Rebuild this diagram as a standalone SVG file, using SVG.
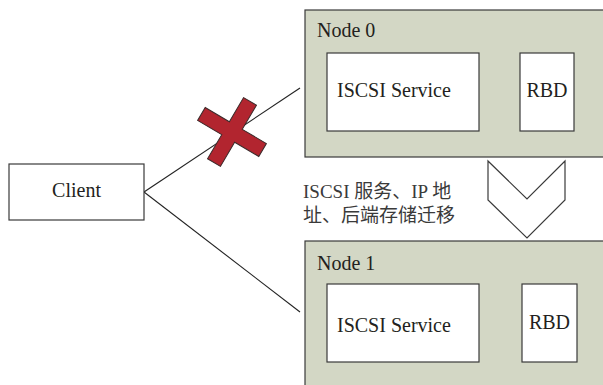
<svg xmlns="http://www.w3.org/2000/svg" width="603" height="385" viewBox="0 0 603 385" font-family="Times New Roman, Liberation Serif, serif">
  <style>
    .node { fill: #d3d7c5; stroke: #3a3a3a; stroke-width: 1.2; }
    .box { fill: #ffffff; stroke: #3a3a3a; stroke-width: 1.2; }
    .link { stroke: #222; stroke-width: 1.1; fill: none; }
  </style>
  <rect width="603" height="385" fill="#ffffff"/>

  <!-- client to nodes -->
  <g id="connectors">
    <line class="link" x1="144" y1="192" x2="300" y2="88"/>
    <line class="link" x1="144" y1="192" x2="300" y2="312"/>
  </g>

  <!-- broken link marker -->
  <g id="fail-mark" transform="translate(232 132) rotate(30.5)">
    <path d="M -35.5 -7.5 H -7.5 V -35.5 H 7.5 V -7.5 H 35.5 V 7.5 H 7.5 V 35.5 H -7.5 V 7.5 H -35.5 Z" fill="#b2252f" stroke="#3a2a2a" stroke-width="1"/>
  </g>

  <g id="client">
    <rect class="box" x="9" y="164" width="135" height="56"/>
    <text x="76.5" y="197" text-anchor="middle" font-family="Times New Roman, Liberation Serif, serif" font-size="20" fill="#231f20">Client</text>
  </g>

  <g id="node0">
    <rect class="node" x="305" y="10" width="310" height="147"/>
    <rect class="box" x="327" y="53" width="152" height="78"/>
    <rect class="box" x="520" y="53" width="54" height="78"/>
    <text x="317" y="37" font-family="Times New Roman, Liberation Serif, serif" font-size="20" fill="#231f20">Node 0</text>
    <text x="337" y="97" font-family="Times New Roman, Liberation Serif, serif" font-size="20" fill="#231f20">ISCSI Service</text>
    <text x="547" y="97" text-anchor="middle" font-family="Times New Roman, Liberation Serif, serif" font-size="20" fill="#231f20">RBD</text>
  </g>

  <g id="migration">
    <polygon points="488,161 527,199 565,161 565,200 527,238 488,200" fill="#ffffff" stroke="#3a3a3a" stroke-width="1.2"/>
    <text x="303" y="198" font-family="Times New Roman, Liberation Serif, Noto Sans CJK SC, serif" font-size="19" fill="#3a3a3a">ISCSI 服务、IP 地</text>
    <text x="303" y="222" font-family="Times New Roman, Liberation Serif, Noto Sans CJK SC, serif" font-size="19" fill="#3a3a3a">址、后端存储迁移</text>
  </g>

  <g id="node1">
    <rect class="node" x="305" y="241" width="310" height="160"/>
    <rect class="box" x="327" y="284" width="152" height="78"/>
    <rect class="box" x="522" y="284" width="55" height="78"/>
    <text x="317" y="270" font-family="Times New Roman, Liberation Serif, serif" font-size="20" fill="#231f20">Node 1</text>
    <text x="337" y="332" font-family="Times New Roman, Liberation Serif, serif" font-size="20" fill="#231f20">ISCSI Service</text>
    <text x="549.5" y="329" text-anchor="middle" font-family="Times New Roman, Liberation Serif, serif" font-size="20" fill="#231f20">RBD</text>
  </g>
</svg>
